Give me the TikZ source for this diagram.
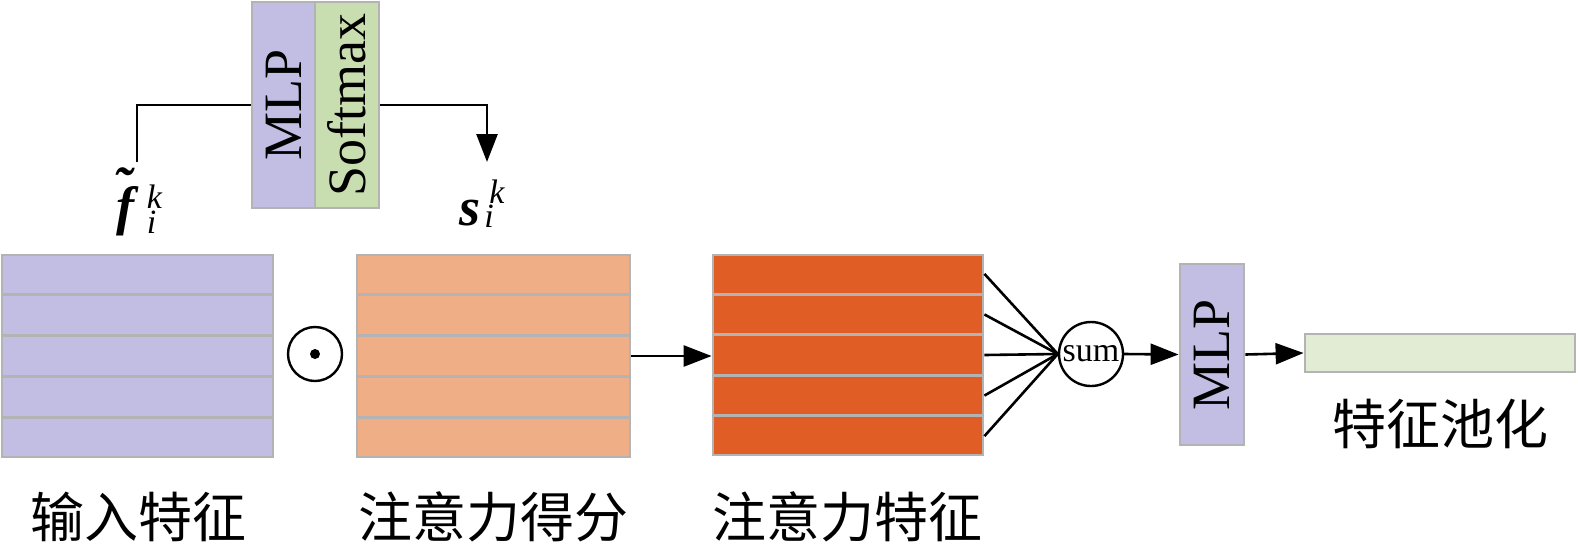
\documentclass[tikz,border=0pt]{standalone}
\usepackage{amsmath}
\usepackage{fontspec}
\setmainfont{Liberation Serif}
\newfontfamily\cjk{Noto Sans CJK SC}
\usetikzlibrary{calc,arrows.meta}
\definecolor{purp}{HTML}{C1BDE3}
\definecolor{lorange}{HTML}{F0AE87}
\definecolor{dorange}{HTML}{E05E25}
\definecolor{lgreen}{HTML}{E2EBD3}
\definecolor{sgreen}{HTML}{C9DEB0}
\definecolor{bgray}{HTML}{B3B3B3}
\newcommand\smallit{\fontsize{17}{17}\selectfont\itshape}
\begin{document}
\begin{tikzpicture}[x=0.5pt,y=-0.5pt,
  box/.style={draw=bgray, line width=1.4pt, inner sep=0pt, font=\fontsize{27}{30}\selectfont},
  sepline/.style={draw=bgray, line width=1.4pt},
  conn/.style={draw=black, line width=1.3pt},
  arr/.style={conn, -{Triangle[length=14pt,width=10.5pt]}},
  cn/.style={font=\cjk\fontsize{27}{30}\selectfont, inner sep=0pt},
  lat/.style={font=\fontsize{27}{30}\selectfont, inner sep=0pt}]
\useasboundingbox (0,0) rectangle (1578,553);
% feature boxes
\node[box, fill=purp, minimum width=135.5pt, minimum height=101pt] (b1) at (137.5,356) {};
\node[box, fill=lorange, minimum width=136.5pt, minimum height=101pt] (b2) at (493.5,356) {};
\node[box, fill=dorange, minimum width=135pt, minimum height=100pt] (b3) at (848,355) {};
\foreach \b in {b1,b2,b3}{
  \foreach \i in {1,...,4}{
    \draw[sepline] ($(\b.north west)!{\i/5}!(\b.south west)$) -- ($(\b.north east)!{\i/5}!(\b.south east)$);
  }
}
% odot
\node[circle, draw, line width=1.2pt, minimum size=27pt, inner sep=0pt] (od) at (315,354) {};
\node[circle, fill, minimum size=5pt, inner sep=0pt] (odc) at (od.center) {};
% sum
\node[circle, draw, line width=1.2pt, minimum size=32pt, inner sep=0pt, font=\fontsize{17}{17}\selectfont] (sum) at (1091,354) {sum};
% MLP 2
\node[box, fill=purp, minimum width=32pt, minimum height=90.5pt] (mlp2) at (1212,354.5) {\rotatebox{90}{MLP}};
% output
\node[box, fill=lgreen, minimum width=135pt, minimum height=19pt] (out) at (1440,353) {};
% top block
\node[box, fill=purp, minimum width=31.5pt, minimum height=103pt] (mlp1) at (283.5,105) {\rotatebox{90}{MLP}};
\node[box, fill=sgreen, minimum width=32pt, minimum height=103pt] (soft) at (347,105) {\rotatebox{90}{Softmax}};
% connectors
\draw[arr] (b2.east) -- (b2.east -| b3.west);
\foreach \i in {1,3,5,7,9}{
  \draw[conn] ($(b3.north east)!{\i/10}!(b3.south east)$) -- (sum.west);
}
\draw[arr] (sum.east) -- (mlp2.west);
\draw[arr] (mlp2.east) -- (out.west);
\coordinate (ftop) at (137,162);
\coordinate (stop) at (487,162);
\draw[conn] (ftop) |- (mlp1.west);
\draw[arr] (soft.east) -| (stop);
% labels
\node[lat, anchor=base west] (flab) at (116,224) {\makebox[0pt][l]{\kern-1.5pt\raisebox{10pt}{\bfseries\itshape\char"02DC}}\textbf{\textit{f}}\kern4pt\makebox[0pt][l]{\raisebox{8pt}{\smallit k}}\raisebox{-4.5pt}{\smallit i}};
\node[lat, anchor=base west] (slab) at (459,225) {\textbf{\textit{s}}\kern2pt\makebox[0pt][l]{\kern2.5pt\raisebox{11pt}{\smallit k}}\raisebox{-1pt}{\smallit i}};
\node[cn] (l1) at (138,517) {输入特征};
\node[cn] (l2) at (493,517) {注意力得分};
\node[cn] (l3) at (847,517) {注意力特征};
\node[cn] (l4) at (1440,424) {特征池化};
\end{tikzpicture}
\end{document}
